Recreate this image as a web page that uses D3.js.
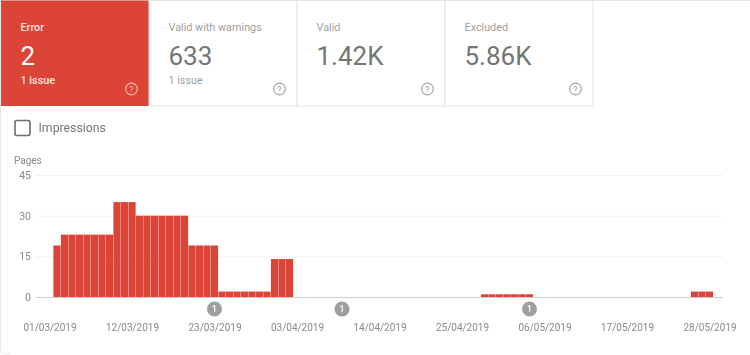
<!DOCTYPE html>
<html>
<head>
<meta charset="utf-8">
<script src="https://cdnjs.cloudflare.com/ajax/libs/d3/7.8.5/d3.min.js"></script>
<style>
  html, body { margin: 0; padding: 0; background: #fff; overflow: hidden; }
  svg { display: block; font-family: Roboto, sans-serif; filter: blur(0.4px); }
  .tick text { fill: #8a8a8a; }
</style>
</head>
<body>
<div id="chart"></div>
<script>
// summary cards
const cardTitles = ["Error", "Valid with warnings", "Valid", "Excluded"];
const cardValues = ["2", "633", "1.42K", "5.86K"];
const cardIssues = ["1 issue", "1 issue", "", ""];

// pages per day, starting on 02/03/2019
const firstDay = "02/03/2019";
const pages = [
  19, 23, 23, 23, 23, 23, 23, 23, 35, 35, 35, 30, 30, 30, 30, 30, 30, 30,
  19, 19, 19, 19, 2, 2, 2, 2, 2, 2, 2, 14, 14, 14,
  0, 0, 0, 0, 0, 0, 0, 0, 0, 0, 0, 0, 0, 0, 0, 0, 0, 0, 0, 0, 0, 0, 0, 0, 0,
  1, 1, 1, 1, 1, 1, 1,
  0, 0, 0, 0, 0, 0, 0, 0, 0, 0, 0, 0, 0, 0, 0, 0, 0, 0, 0, 0, 0,
  2, 2, 2
];
const yTicks = [0, 15, 30, 45];
const xTicks = ["01/03/2019", "12/03/2019", "23/03/2019", "03/04/2019", "14/04/2019",
                "25/04/2019", "06/05/2019", "17/05/2019", "28/05/2019"];
const annotations = ["23/03/2019", "09/04/2019", "04/05/2019"];

const width = 750, height = 355;
const parseDay = d3.timeParse("%d/%m/%Y");
const formatDay = d3.timeFormat("%d/%m/%Y");

const svg = d3.select("#chart")
  .append("svg")
  .attr("width", width)
  .attr("height", height);

// outer frame, open on the right
svg.append("path")
  .attr("d", "M750,0.5 H0.5 V350 q0,4 4,4 H10")
  .attr("fill", "none")
  .attr("stroke", "#e8e8e8");

// cards
const cardX = d3.scaleBand()
  .domain(d3.range(cardTitles.length))
  .range([1, 593]);

const card = svg.selectAll("g.card")
  .data(cardTitles).enter()
  .append("g")
  .attr("class", "card")
  .attr("transform", (d, i) => `translate(${cardX(i)},0)`);

card.append("rect")
  .attr("x", 0)
  .attr("y", 0.5)
  .attr("width", cardX.bandwidth())
  .attr("height", 105.5)
  .attr("fill", (d, i) => i === 0 ? "#db4437" : "#fff")
  .attr("stroke", (d, i) => i === 0 ? "none" : "#e4e4e4");

card.append("text")
  .attr("x", 19.5)
  .attr("y", 31)
  .attr("font-size", 10.8)
  .attr("font-weight", (d, i) => i === 0 ? 500 : 400)
  .attr("fill", (d, i) => i === 0 ? "#fbe3e0" : "#a0a0a0")
  .text(d => d);

card.append("text")
  .attr("x", 19.5)
  .attr("y", 65)
  .attr("font-size", 26)
  .attr("fill", (d, i) => i === 0 ? "#fff" : "#757575")
  .text((d, i) => cardValues[i]);

card.append("text")
  .attr("x", 19.5)
  .attr("y", 84)
  .attr("font-size", 10.8)
  .attr("font-weight", (d, i) => i === 0 ? 500 : 400)
  .attr("fill", (d, i) => i === 0 ? "#fbe3e0" : "#a0a0a0")
  .text((d, i) => cardIssues[i]);

card.append("circle")
  .attr("cx", 130.5)
  .attr("cy", 89)
  .attr("r", 5.8)
  .attr("fill", "none")
  .attr("stroke", (d, i) => i === 0 ? "#f0b3ab" : "#a8a8a8")
  .attr("stroke-width", 1.2);

card.append("text")
  .attr("x", 130.5)
  .attr("y", 92.5)
  .attr("text-anchor", "middle")
  .attr("font-size", 9)
  .attr("fill", (d, i) => i === 0 ? "#f0b3ab" : "#a0a0a0")
  .text("?");

// impressions checkbox
svg.append("rect")
  .attr("x", 15)
  .attr("y", 120.5)
  .attr("width", 15)
  .attr("height", 15)
  .attr("rx", 2)
  .attr("fill", "#fff")
  .attr("stroke", "#6b6b6b")
  .attr("stroke-width", 1.6);

svg.append("text")
  .attr("x", 38.5)
  .attr("y", 132)
  .attr("font-size", 12.3)
  .attr("fill", "#757575")
  .text("Impressions");

// chart
const dayX = d3.scaleTime()
  .domain([parseDay(xTicks[0]), parseDay(xTicks[xTicks.length - 1])])
  .range([49.5, 709.5]);

const pagesY = d3.scaleLinear()
  .domain([0, 45])
  .range([297, 175]);

const start = parseDay(firstDay);
const dayWidth = dayX(d3.timeDay.offset(start, 1)) - dayX(start);

svg.append("g")
  .attr("class", "y-axis")
  .attr("transform", "translate(36,0)")
  .call(d3.axisLeft(pagesY).tickValues(yTicks).tickSize(-687).tickPadding(5))
  .call(g => g.select(".domain").remove())
  .call(g => g.selectAll("line").attr("stroke", "#f2f2f2"))
  .call(g => g.selectAll("text").attr("font-size", 10.5).attr("font-family", "Roboto"));

svg.append("text")
  .attr("x", 14)
  .attr("y", 164)
  .attr("font-size", 10)
  .attr("fill", "#8a8a8a")
  .text("Pages");

svg.append("g")
  .selectAll("rect")
  .data(pages).enter()
  .append("rect")
  .attr("x", (d, i) => dayX(d3.timeDay.offset(start, i)) - dayWidth / 2 + 0.15)
  .attr("y", d => pagesY(d))
  .attr("width", dayWidth - 0.3)
  .attr("height", d => pagesY(0) - pagesY(d))
  .attr("fill", "#db4437");

// baseline
svg.append("line")
  .attr("x1", 36)
  .attr("x2", 723)
  .attr("y1", pagesY(0) + 0.5)
  .attr("y2", pagesY(0) + 0.5)
  .attr("stroke", "#cfcfcf")
  .attr("stroke-width", 1.2);

svg.append("g")
  .attr("class", "x-axis")
  .attr("transform", "translate(0,324)")
  .call(d3.axisBottom(dayX)
    .tickValues(xTicks.map(parseDay))
    .tickFormat(formatDay)
    .tickSize(0)
    .tickPadding(0))
  .call(g => g.select(".domain").remove())
  .call(g => g.selectAll("text").attr("font-size", 10).attr("font-family", "Roboto"));

// annotation markers
const marker = svg.selectAll("g.marker")
  .data(annotations).enter()
  .append("g")
  .attr("class", "marker")
  .attr("transform", d => `translate(${dayX(parseDay(d))},309)`);

marker.append("circle")
  .attr("r", 7.5)
  .attr("fill", "#9e9e9e");

marker.append("text")
  .attr("y", 3)
  .attr("text-anchor", "middle")
  .attr("font-size", 8.5)
  .attr("font-weight", 500)
  .attr("fill", "#fff")
  .text("1");
</script>
</body>
</html>
